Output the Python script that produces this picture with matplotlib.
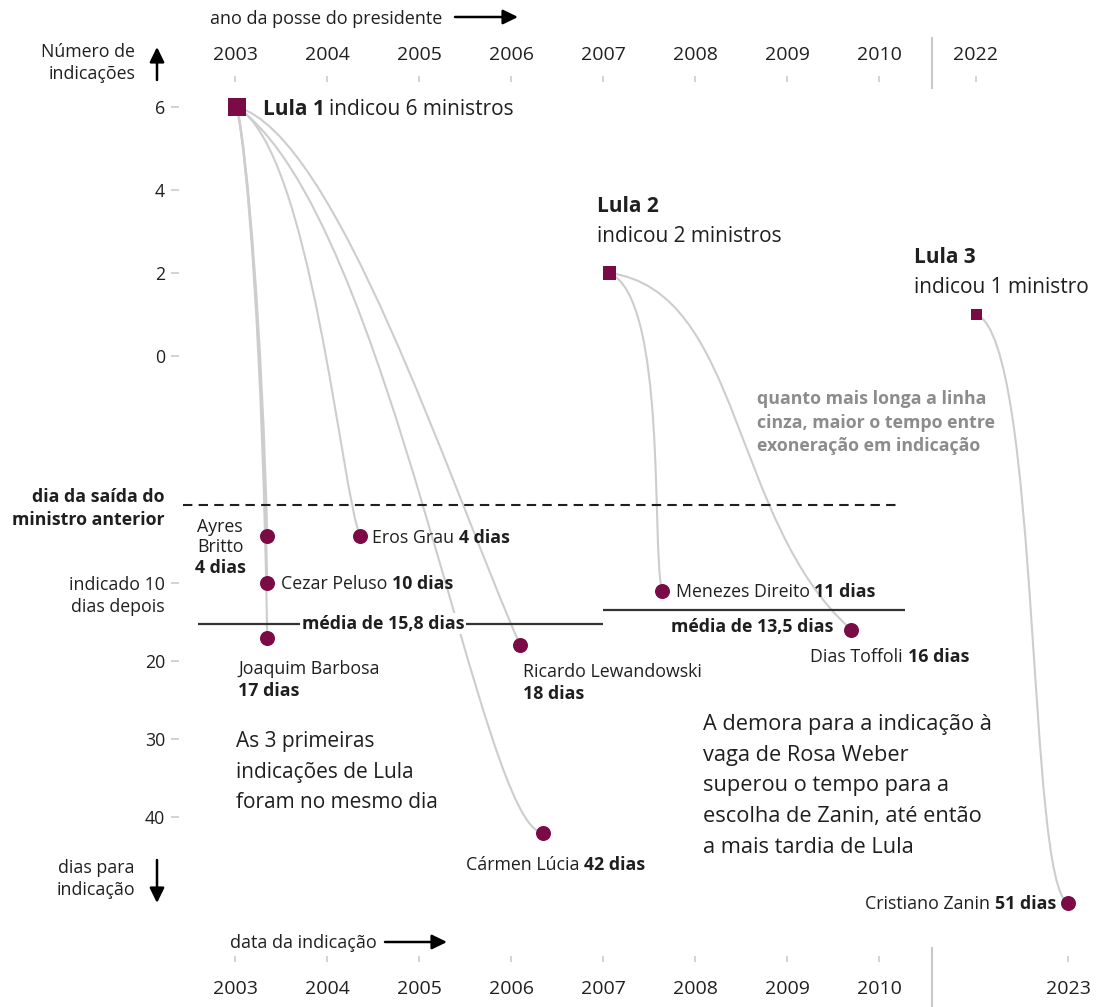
import numpy as np
import matplotlib
matplotlib.use("Agg")
import matplotlib.pyplot as plt
from matplotlib.path import Path
from matplotlib.patches import PathPatch, FancyArrowPatch
from matplotlib.transforms import IdentityTransform
from matplotlib import font_manager

# pick a humanist sans family that has a real bold face
def _has_bold(fam):
    for f in font_manager.fontManager.ttflist:
        if f.name == fam and (f.weight in (600, 700, 'bold', 'semibold') or
                              (isinstance(f.weight, int) and f.weight >= 600)):
            return True
    return False

FAMILY = 'Lato'
for cand in ['Open Sans', 'Noto Sans']:
    if _has_bold(cand):
        FAMILY = cand
        break
plt.rcParams['font.family'] = [FAMILY, 'DejaVu Sans']
SCALE = 1.0 if FAMILY != 'Lato' else 1.1

# ---------------- data ----------------
terms = ["Lula 1", "Lula 2", "Lula 3"]
term_subtitle = ["indicou 6 ministros", "indicou 2 ministros", "indicou 1 ministro"]
posse_year = [2003.02, 2007.07, 2022.01]
n_indicacoes = [6, 2, 1]

ministers = ["Ayres Britto", "Cezar Peluso", "Joaquim Barbosa", "Eros Grau",
             "Ricardo Lewandowski", "Cármen Lúcia", "Menezes Direito",
             "Dias Toffoli", "Cristiano Zanin"]
minister_term = [0, 0, 0, 0, 0, 0, 1, 1, 2]
indic_year = [2003.35, 2003.35, 2003.35, 2004.36, 2006.10, 2006.35, 2007.64, 2009.70, 2023.0]
dias = [4, 10, 17, 4, 18, 42, 11, 16, 51]

mean_text = ["média de 15,8 dias", "média de 13,5 dias"]
mean_level = [15.2, 13.5]
mean_from = [2002.6, 2007.0]
mean_to = [2007.0, 2010.28]

top_years = [2003, 2004, 2005, 2006, 2007, 2008, 2009, 2010, 2022]
bottom_years = [2003, 2004, 2005, 2006, 2007, 2008, 2009, 2010, 2023]
count_ticks = [6, 4, 2, 0]
day_ticks = [10, 20, 30, 40]
day_tick_labels = ["indicado 10", "20", "30", "40"]

# ---------------- style / layout ----------------
W, H = 1116, 1007
MAROON = "#7a0b45"
INK = "#1f1f1f"
CURVE = "#cdcdcd"
TICK = "#c8c8c8"
GREYTXT = "#8c8c8c"
GAP = 0.054


def fwd(x):
    x = np.asarray(x, dtype=float)
    return np.where(x <= 2011, x,
                    np.where(x < 2022, 2011 + (x - 2011) * GAP / 11, x - 2022 + 2011 + GAP))


def inv(z):
    z = np.asarray(z, dtype=float)
    return np.where(z <= 2011, z,
                    np.where(z < 2011 + GAP, 2011 + (z - 2011) * 11 / GAP, z - 2011 - GAP + 2022))


def X(px):
    return float(inv(2003 + (px - 235) / 92.0))


def Yt(py):
    return (356 - py) / 41.5


def Yb(py):
    return (py - 505) / 7.8


def fs(v):
    return v * SCALE


fig = plt.figure(figsize=(W / 100, H / 100), dpi=100)
ax_bot = fig.add_axes([0, 0, 1, 1])
ax_top = fig.add_axes([0, 0, 1, 1])
ax_top.set_zorder(2)
for ax in (ax_top, ax_bot):
    ax.set_xscale('function', functions=(fwd, inv))
    ax.set_xlim(X(0), X(W))
    ax.patch.set_visible(False)
    for s in ax.spines.values():
        s.set_visible(False)
ax_top.set_ylim(Yt(H), Yt(0))
ax_bot.set_ylim(Yb(H), Yb(0))

# --- top axis: years of inauguration + count ticks
ax_top.xaxis.set_ticks_position('top')
ax_top.spines['top'].set_position(('data', Yt(76)))
ax_top.set_xticks(top_years, [str(y) for y in top_years])
ax_top.tick_params(axis='x', direction='in', length=4.3, width=1.1, color=TICK,
                   pad=9, labelsize=14, labelcolor=INK)
ax_top.yaxis.set_ticks_position('left')
ax_top.spines['left'].set_position(('data', X(171)))
ax_top.set_yticks(count_ticks, [str(c) for c in count_ticks])
ax_top.tick_params(axis='y', direction='in', length=5.8, width=1.1, color=TICK,
                   pad=4.3, labelsize=12.8, labelcolor=INK)
ax_top.xaxis.set_minor_locator(matplotlib.ticker.NullLocator())

# --- bottom axis: nomination date + days ticks
ax_bot.xaxis.set_ticks_position('bottom')
ax_bot.spines['bottom'].set_position(('data', Yb(962)))
ax_bot.set_xticks(bottom_years, [str(y) for y in bottom_years])
ax_bot.tick_params(axis='x', direction='in', length=4.3, width=1.1, color=TICK,
                   pad=13, labelsize=14, labelcolor=INK)
ax_bot.yaxis.set_ticks_position('left')
ax_bot.spines['left'].set_position(('data', X(171)))
ax_bot.set_yticks(day_ticks, day_tick_labels)
ax_bot.tick_params(axis='y', direction='in', length=5.8, width=1.1, color=TICK,
                   pad=4.3, labelsize=fs(12.8), labelcolor=INK)
ax_bot.xaxis.set_minor_locator(matplotlib.ticker.NullLocator())

# axis break marks
ax_top.plot([X(932), X(932)], [Yt(38), Yt(88)], color=TICK, lw=1.5)
ax_bot.plot([X(932), X(932)], [Yb(948), Yb(1006)], color=TICK, lw=1.5)

# reference line: day the previous minister left
ax_bot.hlines(0, X(183), X(900), colors=INK, lw=1.5, linestyles=(0, (4.5, 3)), zorder=2)

# mean lines
MS = 12.8
for i in range(2):
    ax_bot.hlines(mean_level[i], mean_from[i], mean_to[i], colors="#333333", lw=1.6, zorder=3)
ax_bot.text(X(383), mean_level[0], mean_text[0], ha='center', va='center', fontsize=fs(MS),
            fontweight='bold', color=INK, zorder=4,
            bbox=dict(fc='white', ec='none', pad=1.0))
ax_bot.annotate(mean_text[1], xy=(X(752), mean_level[1]), xytext=(0, -17 * 0.72),
                textcoords='offset points', ha='center', va='center', fontsize=fs(MS),
                fontweight='bold', color=INK, zorder=4)

# curves from inauguration square to nomination dot
curve_shape = [(0.35, 0.1, 0.85, 0.55), (0.35, 0.1, 0.85, 0.5), (0.35, 0.1, 0.85, 0.45),
               (0.6, 0.1, 0.85, 0.9), (0.35, 0.05, 0.75, 0.7), (0.5, 0.15, 0.8, 1.0),
               (1.1, 0.08, 0.8, 0.85), (0.55, 0.05, 0.5, 0.7), (0.7, 0.05, 0.55, 0.97)]
for i in range(len(ministers)):
    t = minister_term[i]
    p0 = ax_top.transData.transform((posse_year[t], n_indicacoes[t]))
    p1 = ax_bot.transData.transform((indic_year[i], dias[i]))
    a1, b1, a2, b2 = curve_shape[i]
    d = p1 - p0
    c1 = p0 + np.array([a1 * d[0], b1 * d[1]])
    c2 = p0 + np.array([a2 * d[0], b2 * d[1]])
    path = Path([p0, c1, c2, p1], [Path.MOVETO, Path.CURVE4, Path.CURVE4, Path.CURVE4])
    ax_bot.add_patch(PathPatch(path, transform=IdentityTransform(), fc='none',
                               ec=CURVE, lw=1.5, zorder=1))

# markers
ax_bot.scatter(indic_year, dias, s=(15 * 0.72) ** 2, c=MAROON, linewidths=0, zorder=5)
sq = [(11 * n ** 0.275 * 0.72) ** 2 for n in n_indicacoes]
ax_top.scatter(posse_year, n_indicacoes, s=sq, marker='s', c=MAROON, linewidths=0, zorder=5)


# ---------------- text helpers ----------------
def base_off(dyc_px, size):
    return dyc_px + 0.36 * size / 0.72


def chain(ax, xy, parts, dx_px, dyc_px, size, ha='left', color=INK):
    size = fs(size)
    off = (dx_px * 0.72, -base_off(dyc_px, size) * 0.72)
    seq = parts if ha == 'left' else parts[::-1]
    t0, w0 = seq[0]
    prev = ax.annotate(t0, xy=xy, xytext=off, textcoords='offset points', ha=ha,
                       va='baseline', fontsize=size, fontweight=w0, color=color, zorder=6)
    for t, w in seq[1:]:
        if ha == 'left':
            prev = ax.annotate(t, xy=(1, 0), xycoords=prev, xytext=(3.3, 0),
                               textcoords='offset points', ha='left', va='bottom',
                               fontsize=size, fontweight=w, color=color, zorder=6)
        else:
            prev = ax.annotate(t, xy=(0, 0), xycoords=prev, xytext=(-3.3, 0),
                               textcoords='offset points', ha='right', va='bottom',
                               fontsize=size, fontweight=w, color=color, zorder=6)
    return prev


def ftext(px, pyc, s, size, ha='left', weight='normal', color=INK):
    size = fs(size)
    fig.text(px / W, 1 - base_off(pyc, size) / H, s, ha=ha, va='baseline', fontsize=size,
             fontweight=weight, color=color)


def farrow(x0, y0, x1, y1):
    fig.add_artist(FancyArrowPatch((x0 / W, 1 - y0 / H), (x1 / W, 1 - y1 / H),
                                   transform=fig.transFigure,
                                   arrowstyle='-|>,head_length=0.45,head_width=0.22',
                                   mutation_scale=20, lw=1.8, color='black',
                                   shrinkA=0, shrinkB=0))


# president labels
LS = 15
chain(ax_top, (posse_year[0], n_indicacoes[0]), [(terms[0], 'bold'), (term_subtitle[0], 'normal')],
      26, 0, LS)
chain(ax_top, (posse_year[1], n_indicacoes[1]), [(terms[1], 'bold')], -12, -69, LS)
chain(ax_top, (posse_year[1], n_indicacoes[1]), [(term_subtitle[1], 'normal')], -12, -39, LS)
chain(ax_top, (posse_year[2], n_indicacoes[2]), [(terms[2], 'bold')], -63, -59, LS)
chain(ax_top, (posse_year[2], n_indicacoes[2]), [(term_subtitle[2], 'normal')], -63, -29, LS)

# minister labels
pts = list(zip(indic_year, dias))
dl = [f"{d} dias" for d in dias]
chain(ax_bot, pts[0], [("Ayres", 'normal')], -47, -11, MS, ha='center')
chain(ax_bot, pts[0], [("Britto", 'normal')], -47, 9, MS, ha='center')
chain(ax_bot, pts[0], [(dl[0], 'bold')], -47, 30, MS, ha='center')
chain(ax_bot, pts[1], [(ministers[1], 'normal'), (dl[1], 'bold')], 14, 0, MS)
chain(ax_bot, pts[2], [(ministers[2], 'normal')], -29, 30, MS)
chain(ax_bot, pts[2], [(dl[2], 'bold')], -29, 52, MS)
chain(ax_bot, pts[3], [(ministers[3], 'normal'), (dl[3], 'bold')], 12, 0, MS)
chain(ax_bot, pts[4], [(ministers[4], 'normal')], 3, 25, MS)
chain(ax_bot, pts[4], [(dl[4], 'bold')], 3, 47, MS)
chain(ax_bot, pts[5], [(ministers[5], 'normal'), (dl[5], 'bold')], -77, 31, MS)
chain(ax_bot, pts[6], [(ministers[6], 'normal'), (dl[6], 'bold')], 14, 0, MS)
chain(ax_bot, pts[7], [(ministers[7], 'normal'), (dl[7], 'bold')], -41, 26, MS)
chain(ax_bot, pts[8], [(ministers[8], 'normal'), (dl[8], 'bold')], -12, 0, MS, ha='right')

# axis titles and arrows
ftext(210, 17, "ano da posse do presidente", 13)
farrow(455, 17, 518, 17)
ftext(135, 51, "Número de", 12.8, ha='right')
ftext(135, 73, "indicações", 12.8, ha='right')
farrow(157, 80, 157, 47)
ftext(165, 496, "dia da saída do", 12.8, ha='right', weight='bold')
ftext(165, 519, "ministro anterior", 12.8, ha='right', weight='bold')
ftext(165, 606, "dias depois", 12.8, ha='right')
ftext(135, 867, "dias para", 12.8, ha='right')
ftext(135, 889, "indicação", 12.8, ha='right')
farrow(157, 860, 157, 903)
ftext(230, 942, "data da indicação", 13)
farrow(385, 942, 447, 942)

# annotations
for k, s in enumerate(["quanto mais longa a linha", "cinza, maior o tempo entre",
                       "exoneração em indicação"]):
    ftext(757, 398 + 23.5 * k, s, 12.8, weight='bold', color=GREYTXT)
for k, s in enumerate(["As 3 primeiras", "indicações de Lula", "foram no mesmo dia"]):
    ftext(236, 740 + 30.5 * k, s, 15)
for k, s in enumerate(["A demora para a indicação à", "vaga de Rosa Weber",
                       "superou o tempo para a", "escolha de Zanin, até então",
                       "a mais tardia de Lula"]):
    ftext(703, 722 + 30.7 * k, s, 15.7)

fig.savefig("out.png", dpi=100)
